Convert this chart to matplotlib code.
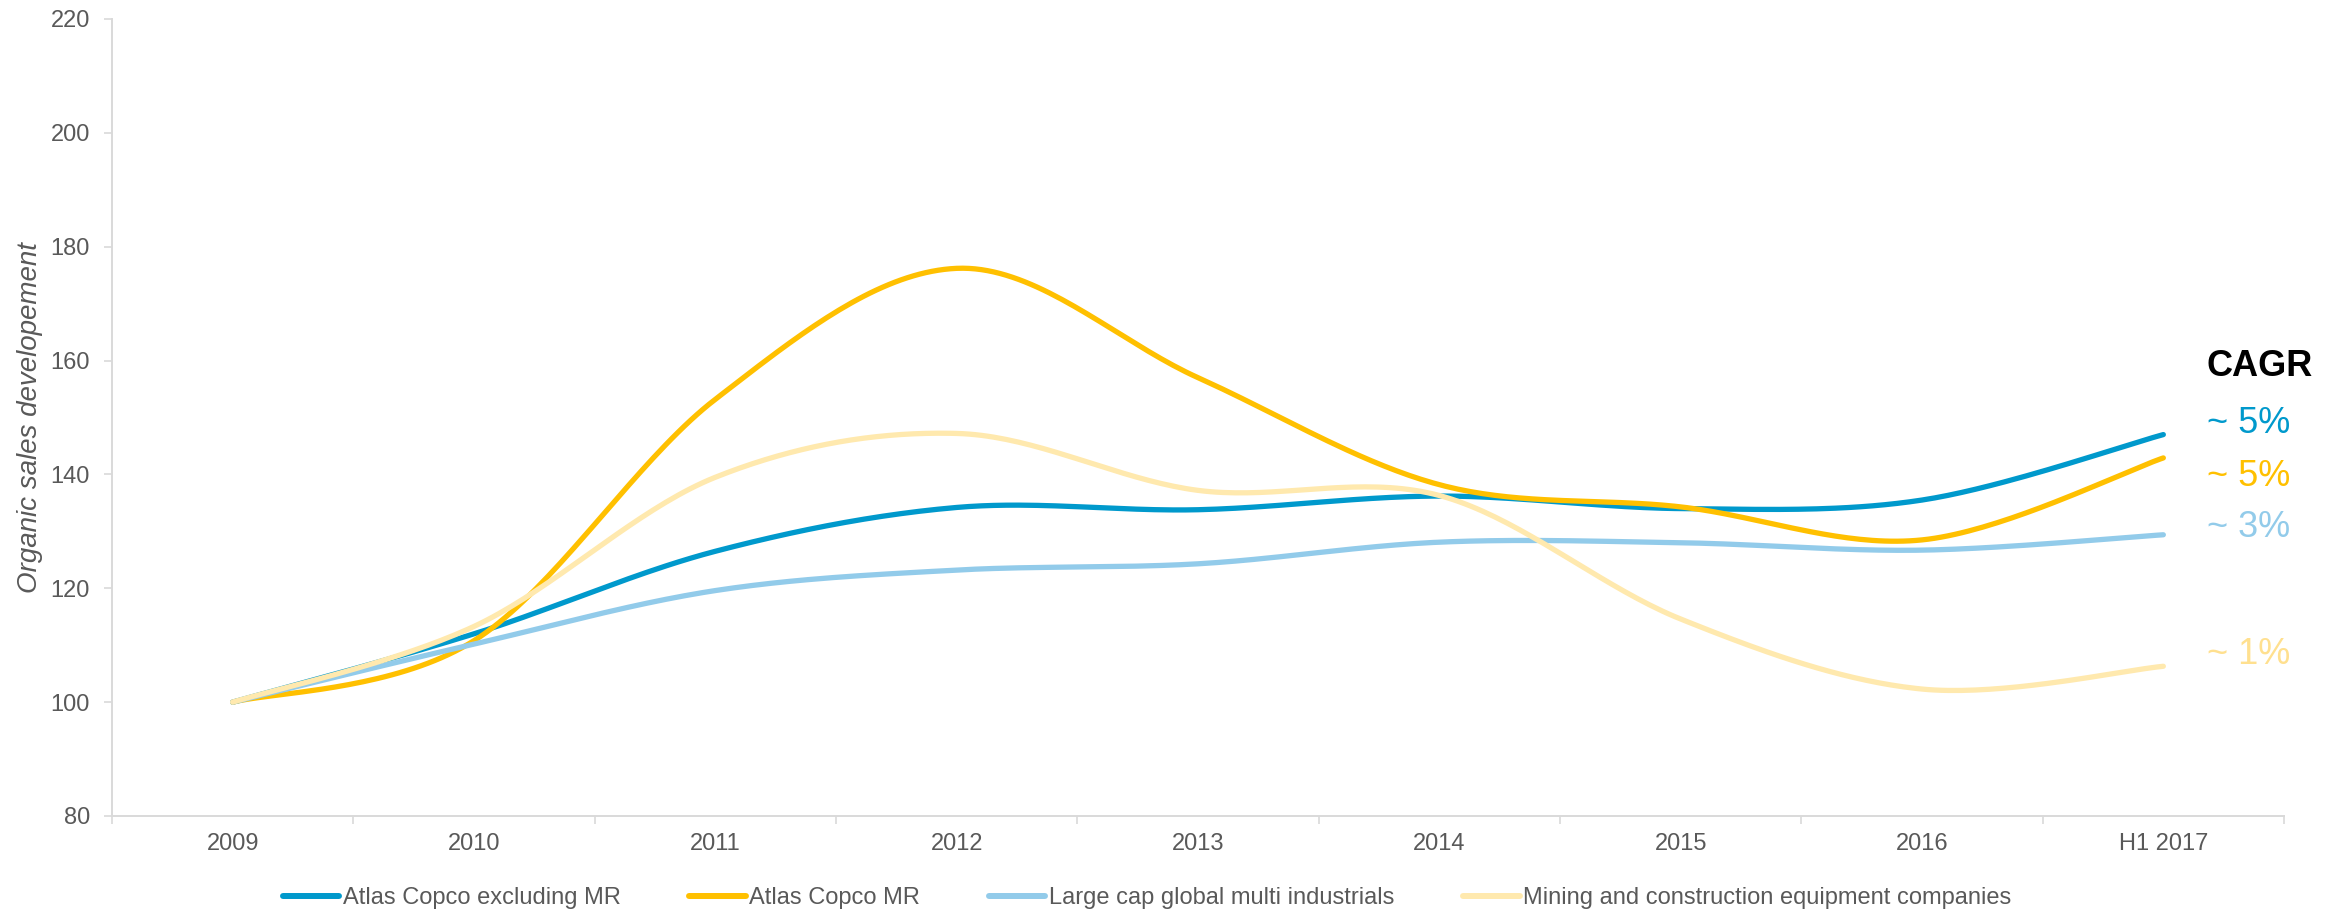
import numpy as np
import matplotlib
matplotlib.use("Agg")
import matplotlib.pyplot as plt

plt.rcParams['font.family'] = ['Liberation Sans', 'DejaVu Sans']

categories = ["2009", "2010", "2011", "2012", "2013", "2014", "2015", "2016", "H1 2017"]
atlas_ex_mr = [100, 112, 126.5, 134.2, 133.8, 136.2, 134, 135.5, 147]
atlas_mr = [100, 110.8, 153.2, 176.2, 157, 138.2, 134.3, 128.5, 142.9]
large_cap = [100, 110.2, 119.6, 123.2, 124.3, 128.1, 128, 126.7, 129.4]
mining = [100, 113.3, 139.5, 147.2, 137.2, 136.3, 114.6, 102.3, 106.3]

series_names = ["Atlas Copco excluding MR", "Atlas Copco MR",
                "Large cap global multi industrials",
                "Mining and construction equipment companies"]
cagr_labels = ["~ 5%", "~ 5%", "~ 3%", "~ 1%"]
colors = ["#0099CC", "#FFC000", "#92CBEA", "#FFE9AE"]
text_colors = ["#0099CC", "#FFC000", "#92CBEA", "#FFE08F"]


def smooth(xs, ys, n=40):
    xs = np.asarray(xs, float)
    ys = np.asarray(ys, float)
    P = np.column_stack([xs, ys])
    out = [P[0]]
    for i in range(len(P) - 1):
        p0 = P[i - 1] if i > 0 else P[i]
        p1 = P[i]
        p2 = P[i + 1]
        p3 = P[i + 2] if i + 2 < len(P) else P[i + 1]
        c1 = p1 + (p2 - p0) / 6.0
        c2 = p2 - (p3 - p1) / 6.0
        t = np.linspace(0, 1, n)[1:, None]
        seg = ((1 - t) ** 3) * p1 + 3 * ((1 - t) ** 2) * t * c1 + 3 * (1 - t) * t ** 2 * c2 + t ** 3 * p2
        out.extend(seg)
    out = np.array(out)
    return out[:, 0], out[:, 1]


fig = plt.figure(figsize=(23.4, 9.1), dpi=100)
ax = fig.add_axes([112 / 2340, 1 - 816 / 910, (2284 - 112) / 2340, (816 - 19) / 910])

x = np.arange(len(categories))
data = [atlas_ex_mr, atlas_mr, large_cap, mining]
for vals, name, c in zip(data, series_names, colors):
    sx, sy = smooth(x, vals)
    ax.plot(sx, sy, color=c, lw=3.8, solid_capstyle='round', label=name)

ax.set_xlim(-0.5, len(categories) - 0.5)
ax.set_ylim(80, 220)
ax.set_yticks(np.arange(80, 221, 20))
ax.set_xticks(x)
ax.set_xticklabels(categories)
ax.set_xticks(np.arange(-0.5, len(categories), 1.0), minor=True)

grey = "#D9D9D9"
for s in ["top", "right"]:
    ax.spines[s].set_visible(False)
for s in ["left", "bottom"]:
    ax.spines[s].set_color(grey)
    ax.spines[s].set_linewidth(1.4)

ax.tick_params(axis='x', which='major', length=0, pad=12, labelsize=17, labelcolor="#595959")
ax.tick_params(axis='x', which='minor', length=6, width=1.2, color=grey)
ax.tick_params(axis='y', length=6, width=1.2, color=grey, pad=10, labelsize=17, labelcolor="#595959")

ax.set_ylabel("Organic sales developement", fontsize=20, style='italic', color="#595959", labelpad=5)

# CAGR annotations
ax.text(8.18, 159.0, "CAGR", fontsize=26, fontweight='bold', color='black', va='center', ha='left', clip_on=False)
cagr_y = [149.0, 139.7, 130.6, 108.3]
for lab, yy, c in zip(cagr_labels, cagr_y, text_colors):
    ax.text(8.18, yy, lab, fontsize=26, color=c, va='center', ha='left', clip_on=False)

leg = fig.legend(loc='center', bbox_to_anchor=(1147 / 2340, 1 - 898 / 910), ncol=4, frameon=False,
                 fontsize=17, handlelength=2.4, handletextpad=0.15, columnspacing=2.9, labelcolor="#595959")
for h in leg.get_lines():
    h.set_linewidth(4.3)
    h.set_solid_capstyle('round')

fig.savefig("out.png", dpi=100)
